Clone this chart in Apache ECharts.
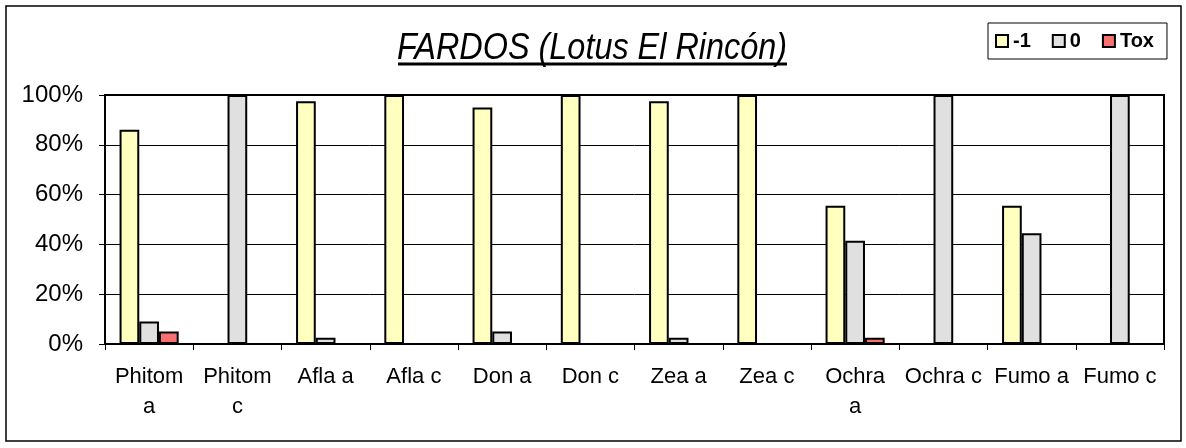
<!DOCTYPE html>
<html>
<head>
<meta charset="utf-8">
<script src="https://cdn.jsdelivr.net/npm/echarts@6/dist/echarts.min.js"></script>
<style>
  html, body { margin: 0; padding: 0; background: #fff; }
  #chart { width: 1186px; height: 448px; }
</style>
</head>
<body>
<div id="chart"></div>
<script>
// categorias y porcentajes (null = sin barra)
const categories = ["Phitom\na", "Phitom\nc", "Afla a", "Afla c", "Don a", "Don c",
  "Zea a", "Zea c", "Ochra\na", "Ochra c", "Fumo a", "Fumo c"];
const menosUno = [86, null, 97.5, 100, 95, 100, 97.5, 100, 55.5, null, 55.5, null];
const cero = [9, 100, 2.5, null, 5, null, 2.5, null, 41.5, 100, 44.5, 100];
const tox = [5, null, null, null, null, null, null, null, 2.5, null, null, null];
const yTicks = [0, 20, 40, 60, 80, 100];

const font = "Liberation Sans, Arial, sans-serif";
const chart = echarts.init(document.getElementById("chart"));

const barStyle = (color) => ({ color: color, borderColor: "#000", borderWidth: 2 });
const legendItem = (name) => ({
  name: name, icon: "rect",
  itemStyle: { borderColor: "#000", borderWidth: 2 }
});

chart.setOption({
  animation: false,
  backgroundColor: "#fff",
  legend: {
    left: 988,
    top: 23,
    padding: [8, 13, 8, 7],
    itemGap: 21,
    itemWidth: 12,
    itemHeight: 12,
    borderColor: "#000",
    borderWidth: 1,
    textStyle: { fontFamily: font, fontSize: 20, fontWeight: "bold", color: "#000" },
    data: [legendItem("-1"), legendItem("0"), legendItem("Tox")]
  },
  grid: { left: 105, right: 22, top: 95, bottom: 104 },
  xAxis: {
    type: "category",
    data: categories,
    axisLine: { lineStyle: { color: "#000", width: 2 } },
    axisTick: { show: true, length: 6, lineStyle: { color: "#000", width: 1 } },
    axisLabel: { interval: 0, margin: 18, fontFamily: font, fontSize: 22, lineHeight: 30, color: "#000" }
  },
  yAxis: {
    type: "value",
    min: 0,
    max: 100,
    interval: 20,
    axisLine: { show: true, lineStyle: { color: "#000", width: 2 } },
    axisTick: { show: true, length: 6, lineStyle: { color: "#000" } },
    splitLine: { lineStyle: { color: "#000", width: 1 } },
    axisLabel: {
      margin: 22, fontFamily: font, fontSize: 24, color: "#000",
      formatter: (v) => yTicks.includes(v) ? v + "%" : ""
    }
  },
  series: [
    { name: "-1", type: "bar", data: menosUno, barGap: "0%", barCategoryGap: "33%", itemStyle: barStyle("#FFFFC0") },
    { name: "0", type: "bar", data: cero, barGap: "0%", barCategoryGap: "33%", itemStyle: barStyle("#E0E0E0") },
    { name: "Tox", type: "bar", data: tox, barGap: "0%", barCategoryGap: "33%", itemStyle: barStyle("#F87070") }
  ]
});

// marco exterior, título subrayado y borde del área del gráfico
const g = chart.getModel().getComponent("grid").coordinateSystem.getRect();
chart.setOption({
  graphic: [
    { type: "rect", shape: { x: 6, y: 6, width: 1175, height: 435 }, style: { fill: "none", stroke: "#000", lineWidth: 1.5 } },
    {
      type: "text", x: 592, y: 67, scaleX: 0.9,
      style: {
        text: "FARDOS (Lotus El Rincón)", fill: "#000",
        font: "italic 36px Liberation Sans, Arial, sans-serif",
        align: "center", verticalAlign: "bottom"
      }
    },
    { type: "line", shape: { x1: 398, y1: 64, x2: 787, y2: 64 }, style: { stroke: "#000", lineWidth: 3 } },
    { type: "rect", shape: { x: g.x, y: g.y, width: g.width, height: g.height }, style: { fill: "none", stroke: "#000", lineWidth: 2 }, z: 10 }
  ]
});
</script>
</body>
</html>
